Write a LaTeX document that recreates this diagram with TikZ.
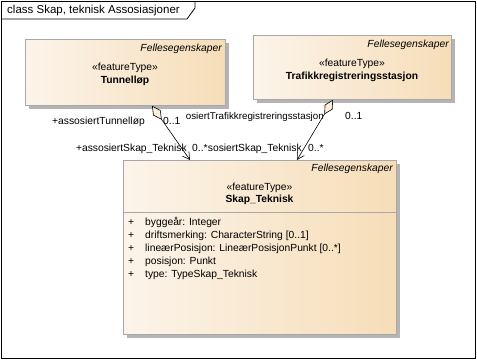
\documentclass[tikz,border=0pt]{standalone}
\usepackage{fontspec}
\setmainfont{Liberation Sans}
\usepackage{xcolor}
\usepackage{tikz}
\usetikzlibrary{arrows.meta, positioning, shadows}
\definecolor{boxLeft}{HTML}{FCF4EA}
\definecolor{boxRight}{HTML}{F6DDB8}
\definecolor{boxBorder}{HTML}{A8A8A8}
\definecolor{boxShadow}{HTML}{B4B4B4}
\definecolor{diamondFill}{HTML}{FAEEDC}
\newcommand{\umlsize}{\fontsize{10.3}{12}\selectfont}

\begin{document}
\begin{tikzpicture}[x=1pt, y=-1pt,
  umltext/.style={inner sep=0pt, font=\umlsize, text height=7.5pt, text depth=2.2pt},
  ftbox/.style={draw=boxBorder, line width=0.8pt, left color=boxLeft, right color=boxRight, anchor=north west, inner sep=0pt,
    general shadow={fill=boxShadow, shadow xshift=3.5pt, shadow yshift=-3.5pt}},
  assoc/.style={line width=0.6pt, {Diamond[length=17pt, width=9pt, fill=diamondFill]}-{Straight Barb[length=7pt, width=8pt]}}]
  \useasboundingbox (0,0) rectangle (477,360);

  % frame and tab
  \draw[line width=0.8pt] (1,1) rectangle (475.5,358);
  \draw[line width=0.8pt] (1,19) -- (187,19) -- (195,8) -- (195,1);
  \node[umltext, anchor=west, font=\fontsize{11.5}{13}\selectfont] (title) at (7,10.5) {class Skap, teknisk Assosiasjoner};

  % classes
  \node[ftbox, minimum width=200pt, minimum height=66pt] (tunnel) at (25,39) {};
  \node[umltext, anchor=east, font=\umlsize\itshape] (tunnelFelles) at (222,49) {Fellesegenskaper};
  \node[umltext] (tunnelStereo) at (125,68) {«featureType»};
  \node[umltext, font=\umlsize\bfseries] (tunnelName) at (125,81) {Tunnelløp};

  \node[ftbox, minimum width=198pt, minimum height=64pt] (trafikk) at (253,35) {};
  \node[umltext, anchor=east, font=\umlsize\itshape] (trafikkFelles) at (449,45) {Fellesegenskaper};
  \node[umltext] (trafikkStereo) at (352,64) {«featureType»};
  \node[umltext, font=\umlsize\bfseries] (trafikkName) at (352,77) {Trafikkregistreringsstasjon};

  \node[ftbox, minimum width=273pt, minimum height=174pt] (skap) at (123,160) {};
  \node[umltext, anchor=east, font=\umlsize\itshape] (skapFelles) at (393,169) {Fellesegenskaper};
  \node[umltext] (skapStereo) at (259.5,188) {«featureType»};
  \node[umltext, font=\umlsize\bfseries] (skapName) at (259.5,200) {Skap\_Teknisk};
  \draw[boxBorder, line width=0.8pt] ([yshift=-52pt]skap.north west) -- ([yshift=-52pt]skap.north east);

  % attributes
  \foreach \y/\attr in {223/byggeår: Integer,
                        236/driftsmerking: CharacterString [0..1],
                        249/lineærPosisjon: LineærPosisjonPunkt [0..*],
                        261.5/posisjon: Punkt,
                        274.5/type: TypeSkap\_Teknisk} {
    \node[umltext, anchor=west] at (128,\y) {+};
    \node[umltext, anchor=west] at (145,\y) {\attr};
  }

  % associations
  \draw[assoc] ([xshift=127pt]tunnel.south west) -- ([xshift=67pt]skap.north west);
  \draw[assoc] ([xshift=80pt]trafikk.south west) -- ([xshift=174pt]skap.north west);

  % role names and multiplicities
  \node[umltext, anchor=east] (roleTunnel) at (145,121.5) {+assosiertTunnelløp};
  \node[umltext, anchor=west] (multTunnel) at (163,121.5) {0..1};
  \node[umltext, anchor=east, font=\fontsize{9.8}{12}\selectfont] (roleTrafikk) at (324,116.5) {osiertTrafikkregistreringsstasjon};
  \node[umltext, anchor=west] (multTrafikk) at (345,116.5) {0..1};
  \node[umltext, anchor=east] (roleSkapA) at (187,148.5) {+assosiertSkap\_Teknisk};
  \node[umltext, anchor=west] (multSkapA) at (192,148.5) {0..*};
  \node[umltext, anchor=east] (roleSkapB) at (302,148.5) {sosiertSkap\_Teknisk};
  \node[umltext, anchor=west] (multSkapB) at (308,148.5) {0..*};
\end{tikzpicture}
\end{document}
